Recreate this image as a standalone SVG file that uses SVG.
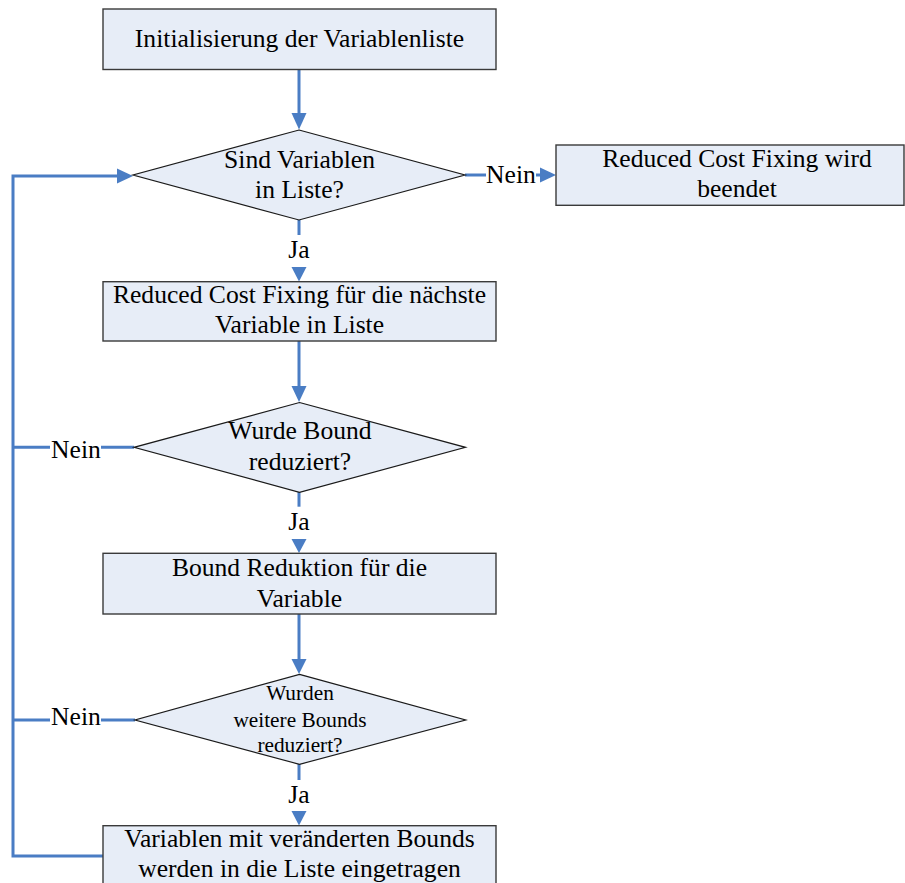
<svg xmlns="http://www.w3.org/2000/svg" width="905" height="883" viewBox="0 0 905 883">
  <style>
    .box { fill: #E7EDF7; stroke: #3A3A3A; stroke-width: 1.4; }
    .dia { fill: #E7EDF7; stroke: #1A1A1A; stroke-width: 1.2; }
    .t { font-family: "Liberation Serif", "Times New Roman", serif; font-size: 25.6px; fill: #000; text-anchor: middle; }
    .ts { font-size: 21.3px; }
    .ln { fill: none; stroke: #4A7DC4; stroke-width: 3; }
    .ah { fill: #4A7DC4; }
  </style>
  <rect width="905" height="883" fill="#fff"/>

  <!-- connectors -->
  <g id="connectors">
    <!-- start box to first decision -->
    <line class="ln" x1="299" y1="69.5" x2="299" y2="114"/>
    <polygon class="ah" points="291.5,113 306.5,113 299,129.5"/>
    <!-- first decision: Nein to end box -->
    <line class="ln" x1="465" y1="175" x2="486" y2="175"/>
    <line class="ln" x1="536" y1="175" x2="541" y2="175"/>
    <polygon class="ah" points="540,167.5 540,182.5 556,175"/>
    <text class="t" x="511" y="183.3">Nein</text>
    <!-- first decision: Ja -->
    <line class="ln" x1="299" y1="220" x2="299" y2="235"/>
    <text class="t" x="299" y="257.5">Ja</text>
    <polygon class="ah" points="291.5,267 306.5,267 299,281.5"/>
    <!-- box 2 to second decision -->
    <line class="ln" x1="299" y1="341" x2="299" y2="387"/>
    <polygon class="ah" points="291.5,386 306.5,386 299,402"/>
    <!-- second decision: Nein back to loop -->
    <line class="ln" x1="13" y1="447.3" x2="50" y2="447.3"/>
    <line class="ln" x1="101" y1="447.3" x2="134" y2="447.3"/>
    <text class="t" x="76" y="457.5">Nein</text>
    <!-- second decision: Ja -->
    <line class="ln" x1="299" y1="492" x2="299" y2="506.7"/>
    <text class="t" x="299" y="530">Ja</text>
    <polygon class="ah" points="291.5,539 306.5,539 299,553"/>
    <!-- box 3 to third decision -->
    <line class="ln" x1="299" y1="614" x2="299" y2="660"/>
    <polygon class="ah" points="291.5,659 306.5,659 299,674"/>
    <!-- third decision: Nein back to loop -->
    <line class="ln" x1="13" y1="720" x2="50" y2="720"/>
    <line class="ln" x1="101" y1="720" x2="135" y2="720"/>
    <text class="t" x="76" y="724.5">Nein</text>
    <!-- third decision: Ja -->
    <line class="ln" x1="299" y1="764" x2="299" y2="780"/>
    <text class="t" x="299" y="803">Ja</text>
    <polygon class="ah" points="291.5,811 306.5,811 299,825.5"/>
    <!-- loop back from last box to first decision -->
    <polyline class="ln" points="103,856 13,856 13,176 118,176"/>
    <polygon class="ah" points="117,168.5 117,183.5 133,176"/>
  </g>

  <g id="init">
    <rect class="box" x="103" y="9" width="393" height="60.5"/>
    <text class="t" x="299.5" y="46.7">Initialisierung der Variablenliste</text>
  </g>

  <g id="check-list">
    <polygon class="dia" points="299,130 465,175 299,220 133,175"/>
    <text class="t" x="299.5" y="167.7">Sind Variablen</text>
    <text class="t" x="299.5" y="198">in Liste?</text>
  </g>

  <g id="end">
    <rect class="box" x="556" y="145" width="348" height="60.3"/>
    <text class="t" x="737" y="167.3">Reduced Cost Fixing wird</text>
    <text class="t" x="737" y="196.7">beendet</text>
  </g>

  <g id="rcf-next">
    <rect class="box" x="103" y="281.7" width="393" height="59.3"/>
    <text class="t" x="299.5" y="303.3">Reduced Cost Fixing für die nächste</text>
    <text class="t" x="299.5" y="333.3">Variable in Liste</text>
  </g>

  <g id="bound-reduced">
    <polygon class="dia" points="299.5,402.5 465.5,447.3 299.5,492.3 134,447.3"/>
    <text class="t" x="300" y="439.3">Wurde Bound</text>
    <text class="t" x="300" y="470">reduziert?</text>
  </g>

  <g id="bound-reduction">
    <rect class="box" x="103" y="553.3" width="393" height="60.7"/>
    <text class="t" x="299.5" y="576">Bound Reduktion für die</text>
    <text class="t" x="299.5" y="606.7">Variable</text>
  </g>

  <g id="further-bounds">
    <polygon class="dia" points="299.5,674.3 465.7,720 299.5,764.3 135,720"/>
    <text class="t ts" x="300" y="700">Wurden</text>
    <text class="t ts" x="300" y="726.7">weitere Bounds</text>
    <text class="t ts" x="300" y="751.7">reduziert?</text>
  </g>

  <g id="update-list">
    <rect class="box" x="103" y="825.7" width="393" height="70"/>
    <text class="t" x="299.5" y="846.7">Variablen mit veränderten Bounds</text>
    <text class="t" x="299.5" y="876.7">werden in die Liste eingetragen</text>
  </g>
</svg>
